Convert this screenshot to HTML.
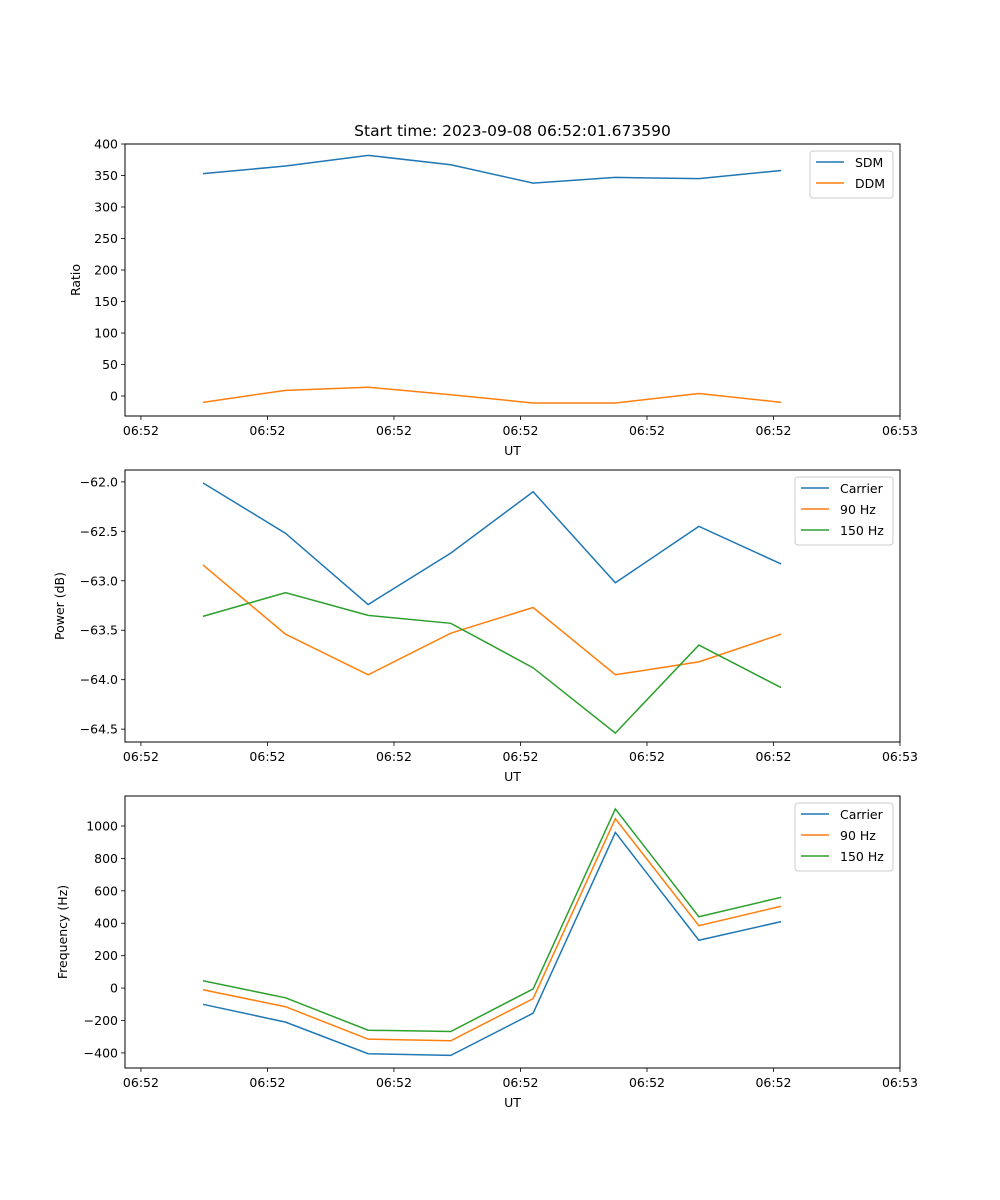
<!DOCTYPE html>
<html><head><meta charset="utf-8"><style>
body{margin:0;background:#fff;}
svg{display:block;font-family:"DejaVu Sans","Liberation Sans",sans-serif;}
</style></head><body>
<svg id="fig" width="1000" height="1200" xmlns="http://www.w3.org/2000/svg">
<rect width="1000" height="1200" fill="#fff"/>
<text x="512.5" y="136" text-anchor="middle" font-size="15.5">Start time: 2023-09-08 06:52:01.673590</text>
</svg>
<script>
const xTimes = [4.9, 11.43, 17.96, 24.49, 31.0, 37.5, 44.1, 50.6];
const xTickVals = [0, 10, 20, 30, 40, 50, 60];
const xTickLabels = ["06:52","06:52","06:52","06:52","06:52","06:52","06:53"];
const sdm = [353, 365, 382, 367, 338, 347, 345, 358];
const ddm = [-10, 9, 14, 2, -11, -11, 4, -10];
const powCarrier = [-62.01, -62.52, -63.24, -62.72, -62.10, -63.02, -62.45, -62.83];
const pow90 = [-62.84, -63.54, -63.95, -63.53, -63.27, -63.95, -63.82, -63.54];
const pow150 = [-63.36, -63.12, -63.35, -63.43, -63.88, -64.54, -63.65, -64.08];
const freqCarrier = [-100, -210, -405, -415, -155, 960, 295, 410];
const freq90 = [-10, -115, -315, -325, -65, 1045, 385, 505];
const freq150 = [45, -60, -260, -268, -5, 1105, 440, 560];
const ticks1 = [0, 50, 100, 150, 200, 250, 300, 350, 400];
const ticks2 = [-64.5, -64.0, -63.5, -63.0, -62.5, -62.0];
const ticks3 = [-400, -200, 0, 200, 400, 600, 800, 1000];

const NS = "http://www.w3.org/2000/svg";
const svg = document.getElementById('fig');
const L = 125, R = 900, xMin = -1.26, xMax = 60;
function sx(v){ return L + (v - xMin) / (xMax - xMin) * (R - L); }
function mk(tag, attrs, parent){ const e = document.createElementNS(NS, tag); for (const k in attrs) e.setAttribute(k, attrs[k]); (parent||svg).appendChild(e); return e; }

function panel(key, top, bottom, yMin, yMax, yTicks, fmt, ylabel, series, legend){
  const g = mk('g', {});
  
  
  const sy = v => bottom - (v - yMin) / (yMax - yMin) * (bottom - top);
  yTicks.forEach(t => {
    const y = sy(t);
    const tk = mk('line', {x1: L-4, x2: L, y1: y, y2: y, stroke: '#000', 'stroke-width': 0.8}, g);
    
    
    const tx = mk('text', {x: L-7, y: y+4.5, 'text-anchor': 'end', 'font-size': 12.5}, g);
    tx.textContent = fmt(t);
    
    
  });
  xTickVals.forEach((t, i) => {
    const x = sx(t);
    mk('line', {x1: x, x2: x, y1: bottom, y2: bottom+4, stroke: '#000', 'stroke-width': 0.8}, g);
    const tx = mk('text', {x: x, y: bottom+19, 'text-anchor': 'middle', 'font-size': 12.5}, g);
    tx.textContent = xTickLabels[i];
    
    
  });
  series.forEach(s => {
    const p = mk('polyline', {points: s.data.map((v, i) => sx(xTimes[i]) + ',' + sy(v)).join(' '), fill: 'none', stroke: s.color, 'stroke-width': 1.5}, g);
    
    
  });
  const frame = mk('rect', {x: L, y: top, width: R-L, height: bottom-top, fill: 'none', stroke: '#000', 'stroke-width': 1}, g);
  
  
  const xl = mk('text', {x: (L+R)/2, y: bottom+39, 'text-anchor': 'middle', 'font-size': 12.5}, g);
  xl.textContent = 'UT';
  
  
  const cy = (top+bottom)/2;
  const yl = mk('text', {x: 0, y: 0, 'text-anchor': 'middle', 'font-size': 12.5, transform: 'translate(' + legend.ylx + ',' + cy + ') rotate(-90)'}, g);
  yl.textContent = ylabel;
  
  
  const lg = mk('g', {}, g);
  
  
  const lh = 21 * series.length + 5;
  mk('rect', {x: legend.x, y: top+7, width: R-7-legend.x, height: lh, rx: 3, fill: '#fff', stroke: '#ccc', 'stroke-width': 1}, lg);
  series.forEach((s, i) => {
    const y = top + 18 + i*21;
    mk('line', {x1: legend.x+6, x2: legend.x+34, y1: y, y2: y, stroke: s.color, 'stroke-width': 1.5}, lg);
    const t = mk('text', {x: legend.x+45, y: y+5, 'font-size': 12.5}, lg);
    t.textContent = s.name;
    
    
  });
}
const B = '#1f77b4', O = '#ff7f0e', G = '#2ca02c';
panel('ratio', 144, 416, -31.7, 400, ticks1, v => String(v), 'Ratio',
  [{name:'SDM', data:sdm, color:B}, {name:'DDM', data:ddm, color:O}], {x: 810, ylx: 80});
panel('power', 470, 742, -64.63, -61.88, ticks2, v => v.toFixed(1).replace('-', '\u2212'), 'Power (dB)',
  [{name:'Carrier', data:powCarrier, color:B}, {name:'90 Hz', data:pow90, color:O}, {name:'150 Hz', data:pow150, color:G}], {x: 795, ylx: 64});
panel('frequency', 796, 1068, -493, 1185, ticks3, v => String(v).replace('-', '\u2212'), 'Frequency (Hz)',
  [{name:'Carrier', data:freqCarrier, color:B}, {name:'90 Hz', data:freq90, color:O}, {name:'150 Hz', data:freq150, color:G}], {x: 795, ylx: 67});
</script>
</body></html>
